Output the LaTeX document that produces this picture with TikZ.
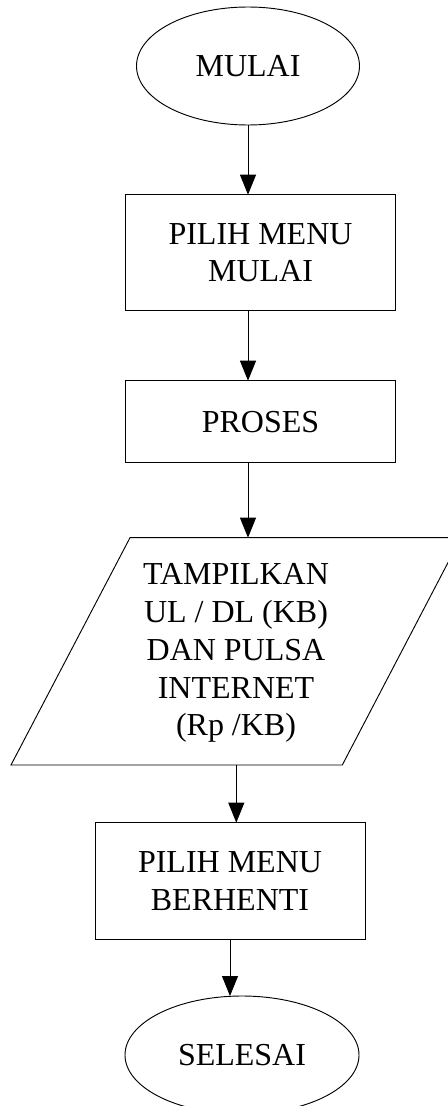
\documentclass[tikz,border=0pt]{standalone}
\usepackage{fontspec}
\setmainfont{Liberation Serif}
\usetikzlibrary{shapes.geometric,arrows.meta}
\begin{document}
\begin{tikzpicture}[x=0.75pt,y=-0.75pt,
  lbl/.style={font=\fontsize{24}{28.4}\selectfont, align=center, inner sep=0pt, outer sep=0pt},
  box/.style={lbl, draw, line width=0.7pt, minimum width=202.2pt},
  term/.style={lbl, draw, ellipse, line width=0.7pt, minimum height=88.5pt},
  flow/.style={line width=0.7pt, -{Triangle[length=15pt,width=12pt]}}]
\useasboundingbox (0,0) rectangle (448,1106);
\clip (0,0) rectangle (448,1106);

% start / end terminators and process boxes
\node[term, minimum width=167.25pt] (mulai) at (248,66) {MULAI};
\node[box, minimum height=87pt] (pilih) at (260.5,252.7) {PILIH MENU\\MULAI};
\node[box, minimum height=61.5pt] (proses) at (260.5,421.7) {PROSES};

% output (parallelogram) with its text
\node[lbl] (tampil) at (236,653) {TAMPILKAN\\UL / DL (KB)\\DAN PULSA\\INTERNET\\(Rp /KB)};
\draw[line width=0.7pt] (130,537.7) -- (461,537.7) -- (342.3,765) -- (11,765) -- cycle;
\coordinate (tampil-in) at (248,537.7);
\coordinate (tampil-out) at (236.3,765);

\node[box, minimum width=202.5pt, minimum height=87.5pt] (henti) at (230,881) {PILIH MENU\\BERHENTI};
\node[term, minimum width=175.5pt] (selesai) at (242,1055) {SELESAI};

% connectors
\draw[flow] (mulai.south) -- (mulai.south |- pilih.north);
\draw[flow] (mulai.south |- pilih.south) -- (mulai.south |- proses.north);
\draw[flow] (mulai.south |- proses.south) -- (tampil-in);
\draw[flow] (tampil-out) -- (tampil-out |- henti.north);
\draw[flow] (henti.south) -- (henti.south |- selesai.north);
\end{tikzpicture}
\end{document}
